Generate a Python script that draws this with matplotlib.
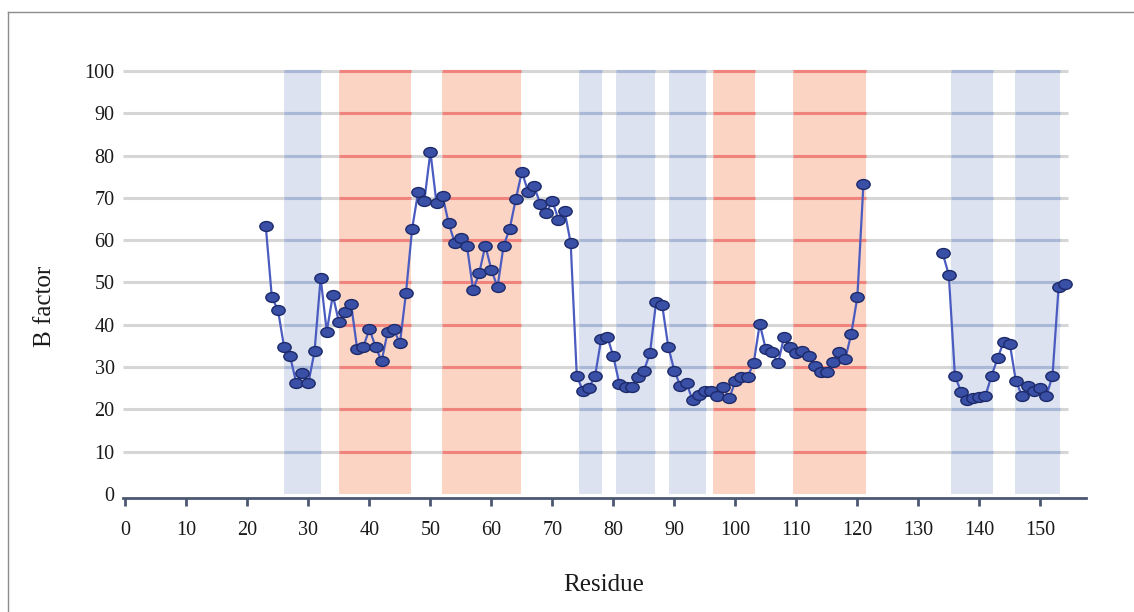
import numpy as np
import matplotlib
matplotlib.use("Agg")
import matplotlib.pyplot as plt
from matplotlib.path import Path
from matplotlib.transforms import Affine2D

plt.rcParams['font.family'] = ['Liberation Serif', 'DejaVu Serif']

# B factors per residue (two modelled stretches, gap 122-133)
residues = list(range(23, 122)) + list(range(134, 155))
bfactor = [
    63.4, 46.5, 43.5, 34.8, 32.5, 26.3, 28.5, 26.3, 33.7, 51.1,   # 23-32
    38.4, 47.0, 40.6, 43.1, 44.8, 34.2, 34.8, 39.0, 34.8, 31.4,   # 33-42
    38.4, 38.9, 35.6, 47.6, 62.7, 71.5, 69.3, 80.9, 68.7, 70.4,   # 43-52
    64.0, 59.3, 60.4, 58.6, 48.2, 52.2, 58.7, 53.0, 48.9, 58.7,   # 53-62
    62.7, 69.7, 76.2, 71.5, 72.8, 68.6, 66.4, 69.3, 64.8, 66.9,   # 63-72
    59.3, 27.9, 24.4, 25.1, 27.9, 36.6, 37.2, 32.5, 25.9, 25.4,   # 73-82
    25.4, 27.7, 29.1, 33.3, 45.3, 44.7, 34.8, 29.1, 25.5, 26.2,   # 83-92
    22.1, 23.4, 24.3, 24.3, 23.2, 25.4, 22.6, 26.7, 27.7, 27.7,   # 93-102
    30.9, 40.2, 34.2, 33.6, 30.9, 37.2, 34.8, 33.4, 33.8, 32.5,   # 103-112
    30.3, 28.9, 28.9, 31.3, 33.6, 31.8, 37.8, 46.5, 73.3,         # 113-121
    56.9, 51.8, 27.9, 24.2, 22.1, 22.6, 22.9, 23.2, 27.9, 32.1,   # 134-143
    36.0, 35.5, 26.7, 23.2, 25.6, 24.3, 25.0, 23.2, 27.9, 48.9,   # 144-153
    49.6,                                                         # 154
]

# secondary structure spans (residue ranges)
helix_start = [35.0, 51.9, 96.3, 109.5]
helix_end = [46.8, 64.9, 103.3, 121.4]
strand_start = [26.0, 74.4, 80.4, 89.2, 135.4, 145.8]
strand_end = [32.0, 78.1, 86.8, 95.2, 142.2, 153.2]

yticks = list(range(0, 101, 10))
xticks = list(range(0, 151, 10))

helix_fill = '#fbd4c4'
helix_grid = '#f0847c'
strand_fill = '#dce2ef'
strand_grid = '#aab8d8'
grid_gray = '#d6d6d6'
axis_col = '#4b5870'

fig = plt.figure(figsize=(11.34, 6.12), dpi=100)
ax = fig.add_axes([0.1085, 0.186, 0.8492, 0.7049])
ax.set_xlim(-0.4, 157.5)
ax.set_ylim(-1, 101)

grid_x0, grid_x1 = -0.4, 154.6
ax.hlines(yticks[1:], grid_x0, grid_x1, colors=grid_gray, lw=2.2, zorder=1)

for s, e in zip(helix_start, helix_end):
    ax.axvspan(s, e, ymin=1/102, ymax=101/102, color=helix_fill, lw=0, zorder=0.5)
    ax.hlines(yticks[1:], s, e, colors=helix_grid, lw=2.2, zorder=1.5)
for s, e in zip(strand_start, strand_end):
    ax.axvspan(s, e, ymin=1/102, ymax=101/102, color=strand_fill, lw=0, zorder=0.5)
    ax.hlines(yticks[1:], s, e, colors=strand_grid, lw=2.2, zorder=1.5)

# ellipse marker, wider than tall
circle = Path.unit_circle()
ellipse = circle.transformed(Affine2D().scale(1.0, 0.74))

res = np.array(residues)
bf = np.array(bfactor)
breaks = np.where(np.diff(res) > 1)[0] + 1
for seg_x, seg_y in zip(np.split(res, breaks), np.split(bf, breaks)):
    ax.plot(seg_x, seg_y, color='#4b5cc0', lw=1.6, marker=ellipse, ms=9.6,
            mfc='#3a4fa6', mec='#1c2a6a', mew=1.0, zorder=3)

for side in ['top', 'right', 'left']:
    ax.spines[side].set_visible(False)
ax.spines['bottom'].set_color(axis_col)
ax.spines['bottom'].set_linewidth(2)

ax.set_xticks(xticks)
ax.set_yticks(yticks)
ax.tick_params(axis='x', direction='out', length=5.5, width=2, color=axis_col,
               labelsize=14.5, pad=11, labelcolor='#1a1a1a')
ax.tick_params(axis='y', length=0, labelsize=14.5, pad=6, labelcolor='#1a1a1a')

fig.text(604, 612 - 585, 'Residue', transform=None, fontsize=18,
         ha='center', va='center', color='#1a1a1a')
fig.text(45, 612 - 306, 'B factor', transform=None, fontsize=18, rotation=90,
         ha='center', va='center', color='#1a1a1a')

# thin page frame
fig.add_artist(plt.Line2D([8 / 1134, 8 / 1134], [0, 1 - 12 / 612],
                          transform=fig.transFigure, color='#8c8c8c', lw=1))
fig.add_artist(plt.Line2D([8 / 1134, 1], [1 - 12 / 612, 1 - 12 / 612],
                          transform=fig.transFigure, color='#8c8c8c', lw=1))

fig.savefig('out.png', dpi=100)
